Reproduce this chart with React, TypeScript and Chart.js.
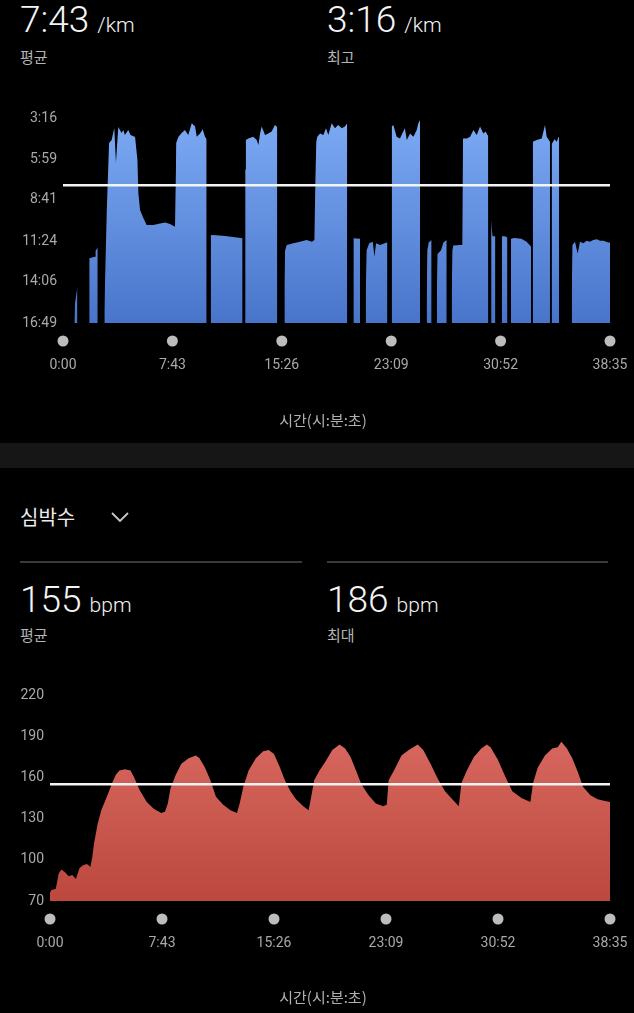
import React, { useEffect, useRef } from 'react';
import { Chart, registerables } from 'chart.js';

Chart.register(...registerables);

// ---- data ----
const timeTicks = [0, 463, 926, 1389, 1852, 2315]; // seconds
const paceTicks = [196, 359, 521, 684, 846, 1009]; // seconds per km
const hrTicks = [70, 100, 130, 160, 190, 220];
const paceAvg = 463;
const hrAvg = 155;

// pace samples (time s, pace s/km); null = no data (gap)
const paceTime = [
  48, 51, 61, 65,
  111, 127, 136, 138, 147, 150,
  175, 185, 195, 206, 217, 224, 234, 248, 255, 262, 276, 286, 305, 315, 319, 326, 340, 354, 382, 411, 432, 453, 474, 478, 479, 488, 502, 516, 530, 545, 559, 566, 580, 591, 601, 608, 612,
  625, 650, 686, 720, 760, 765,
  771, 774, 784, 805, 820, 827, 834, 841, 855, 869, 883, 897, 904, 907, 915,
  937, 940, 947, 975, 1003, 1031, 1053, 1064, 1068, 1072, 1076, 1088, 1102, 1113, 1123, 1137, 1151, 1165, 1180, 1193, 1203, 1212,
  1229, 1257, 1262,
  1281, 1285, 1296, 1311, 1318, 1325, 1342, 1370, 1373, 1380,
  1391, 1398, 1412, 1426, 1440, 1447, 1455, 1469, 1483, 1497, 1504, 1511, 1520,
  1539, 1542, 1548, 1560, 1565,
  1582, 1585, 1600, 1610, 1624, 1630,
  1645, 1648, 1652, 1680, 1690, 1693, 1709, 1723, 1737, 1751, 1765, 1779, 1789, 1796, 1800, 1806,
  1812, 1815, 1818, 1830, 1836,
  1857, 1870, 1881, 1888,
  1896, 1910, 1940, 1962, 1975, 1981, 1984,
  1988, 2005, 2026, 2040, 2047, 2061, 2064,
  2068, 2080, 2090, 2097, 2100, 2110,
  2153, 2156, 2167, 2178, 2188, 2202, 2216, 2230, 2244, 2259, 2273, 2287, 2308, 2315,
];
const paceValue = [
  1009, 930, 866, null,
  752, 748, 746, 722, 709, null,
  960, 573, 295, 283, 236, 374, 232, 255, 244, 263, 244, 263, 271, 363, 493, 561, 593, 620, 620, 614, 610, 616, 627, 400, 295, 271, 255, 244, 263, 217, 230, 270, 257, 241, 270, 280, null,
  660, 661, 664, 668, 673, null,
  400, 283, 277, 270, 283, 303, 257, 230, 263, 257, 250, 224, 230, 235, null,
  850, 720, 700, 693, 687, 680, 687, 680, 450, 290, 270, 257, 263, 237, 263, 217, 237, 224, 237, 230, 217, null,
  673, 675, null,
  900, 720, 693, 687, 746, 693, 700, 690, 690, null,
  230, 224, 270, 277, 250, 237, 283, 257, 270, 244, 217, 204, null,
  900, 720, 690, 680, null,
  900, 735, 720, 690, 680, null,
  900, 720, 702, 700, 700, 277, 277, 270, 244, 263, 230, 257, 250, 263, 265, null,
  600, 640, 665, 665, null,
  665, 665, 670, null,
  675, 672, 675, 687, 700, 706, null,
  290, 283, 277, 224, 270, 290, null,
  300, 280, 290, 270, 275, null,
  900, 700, 687, 733, 687, 693, 683, 687, 680, 677, 683, 683, 690, 690,
];

// heart rate samples (time s, bpm)
const hrTime = [
  0, 6, 24, 36, 47, 62, 77, 92, 107, 122, 137, 152, 167, 175, 182, 197, 212, 235, 257, 272, 287, 310, 333, 348, 370, 400, 430, 460, 475, 487, 498,
  520, 543, 573, 603, 618, 641, 663, 686, 716, 746, 773, 784, 799, 821, 851, 881, 904, 926, 949, 971, 994, 1017, 1047, 1069, 1081, 1092,
  1114, 1137, 1167, 1197, 1220, 1242, 1265, 1287, 1317, 1347, 1377, 1392, 1400, 1422, 1453, 1483, 1520, 1543, 1573, 1603, 1633, 1663, 1690,
  1701, 1723, 1753, 1783, 1806, 1821, 1851, 1881, 1911, 1949, 1986, 1997, 2016, 2046, 2076, 2099, 2114, 2137, 2159, 2182, 2204, 2234, 2264, 2290, 2315,
];
const hrValue = [
  76, 78, 79, 90, 93, 91, 88, 89, 86, 94, 96, 97, 95, 102, 112, 126, 136, 146, 156, 162, 165, 166, 165, 160, 151, 142, 137, 134, 135, 141, 152,
  162, 170, 174, 176, 174, 167, 158, 146, 140, 136, 134, 141, 153, 165, 174, 179, 180, 177, 168, 158, 150, 144, 139, 136, 147, 158,
  165, 171, 180, 184, 181, 175, 165, 155, 147, 141, 139, 140, 158, 165, 176, 180, 184, 180, 170, 159, 150, 144, 139,
  156, 165, 175, 181, 184, 182, 173, 161, 150, 145, 142, 156, 167, 176, 181, 182, 186, 181, 174, 164, 153, 147, 144, 143, 142,
];

// ---- helpers ----
function mmss(v: number): string {
  const total = Math.round(v);
  const m = Math.floor(total / 60);
  const s = total - m * 60;
  return m + ':' + (s < 10 ? '0' : '') + s;
}

const dotsPlugin = {
  id: 'axisDots',
  afterDraw(chart: any, _args: any, opts: any) {
    const sx = chart.scales.x;
    const { ctx, chartArea } = chart;
    ctx.save();
    ctx.fillStyle = opts.color;
    sx.ticks.forEach((t: any) => {
      const x = sx.getPixelForValue(t.value);
      ctx.beginPath();
      ctx.arc(x, chartArea.bottom + opts.offset, opts.radius, 0, Math.PI * 2);
      ctx.fill();
    });
    ctx.restore();
  },
};

type Cfg = {
  times: number[];
  values: (number | null)[];
  avg: number;
  yMin: number;
  yMax: number;
  yTicks: number[];
  reverse: boolean;
  fmtY: (v: number) => string;
  top: string;
  bottom: string;
  leftW: number;
  padTop: number;
  bottomH: number;
  base: number;
};

function buildChart(canvas: HTMLCanvasElement, c: Cfg) {
  const pts = c.times.map((t, i) => ({ x: t, y: c.values[i] }));
  const tickFont = { family: 'Roboto, "Noto Sans", sans-serif', size: 14 };
  return new Chart(canvas, {
    type: 'line',
    data: {
      datasets: [
        {
          data: [
            { x: timeTicks[0], y: c.avg },
            { x: timeTicks[timeTicks.length - 1], y: c.avg },
          ],
          borderColor: '#f4f4f4',
          borderWidth: 2.5,
          pointRadius: 0,
          fill: false,
        },
        {
          data: pts,
          borderColor: 'rgba(0,0,0,0)',
          borderWidth: 0,
          pointRadius: 0,
          tension: 0,
          spanGaps: false,
          fill: { value: c.base },
          backgroundColor: (ctx: any) => {
            const chart = ctx.chart;
            const area = chart.chartArea;
            if (!area) return c.top;
            const g = chart.ctx.createLinearGradient(0, area.top, 0, area.bottom);
            g.addColorStop(0, c.top);
            g.addColorStop(1, c.bottom);
            return g;
          },
        },
      ],
    },
    options: {
      animation: false,
      responsive: false,
      devicePixelRatio: 1,
      layout: { padding: { left: 0, right: 24, top: c.padTop, bottom: 0 } },
      plugins: {
        legend: { display: false },
        tooltip: { enabled: false },
        axisDots: { color: '#bdbdbd', radius: 5.5, offset: 18 },
      } as any,
      scales: {
        x: {
          type: 'linear',
          min: timeTicks[0],
          max: timeTicks[timeTicks.length - 1],
          grid: { display: false, drawTicks: false },
          border: { display: false },
          afterBuildTicks: (scale: any) => {
            scale.ticks = timeTicks.map((v) => ({ value: v }));
          },
          afterFit: (scale: any) => {
            scale.height = c.bottomH;
            scale.paddingLeft = 0;
            scale.paddingRight = 0;
          },
          ticks: {
            autoSkip: false,
            maxRotation: 0,
            padding: 34,
            color: '#a9a9a9',
            font: tickFont,
            callback: (v: any) => mmss(Number(v)),
          },
        },
        y: {
          type: 'linear',
          min: c.yMin,
          max: c.yMax,
          reverse: c.reverse,
          grid: { display: false, drawTicks: false },
          border: { display: false },
          afterBuildTicks: (scale: any) => {
            scale.ticks = c.yTicks.map((v) => ({ value: v }));
          },
          afterFit: (scale: any) => {
            scale.width = c.leftW;
            scale.paddingTop = 0;
            scale.paddingBottom = 0;
          },
          ticks: {
            autoSkip: false,
            padding: 6,
            color: '#a9a9a9',
            font: tickFont,
            callback: (v: any) => c.fmtY(Number(v)),
          },
        },
      },
    },
    plugins: [dotsPlugin as any],
  });
}

const numFont = 'Roboto, "Noto Sans", sans-serif';
const krFont = '"Noto Sans CJK KR", "Noto Sans", sans-serif';

function abs(top: number, left: number, extra: React.CSSProperties = {}): React.CSSProperties {
  return { position: 'absolute', top, left, whiteSpace: 'nowrap', ...extra };
}

function Stat(props: { top: number; left: number; value: string; unit: string; label: string; labelTop: number }) {
  return (
    <>
      <div style={abs(props.top, props.left, { fontFamily: numFont, color: '#f4f4f4', lineHeight: '40px' })}>
        <span style={{ fontSize: 37, fontWeight: 300 }}>{props.value}</span>
        <span style={{ fontSize: 21, fontWeight: 300, marginLeft: 8 }}>{props.unit}</span>
      </div>
      <div style={abs(props.labelTop, props.left, { fontFamily: krFont, color: '#b4b4b4', fontSize: 15, lineHeight: '20px' })}>
        {props.label}
      </div>
    </>
  );
}

export default function App() {
  const paceRef = useRef<HTMLCanvasElement | null>(null);
  const hrRef = useRef<HTMLCanvasElement | null>(null);

  useEffect(() => {
    const c1 = buildChart(paceRef.current!, {
      times: paceTime,
      values: paceValue,
      avg: paceAvg,
      yMin: paceTicks[0],
      yMax: paceTicks[paceTicks.length - 1],
      yTicks: paceTicks,
      reverse: true,
      fmtY: mmss,
      top: 'rgb(125,170,244)',
      bottom: 'rgb(72,117,202)',
      leftW: 63,
      padTop: 18,
      bottomH: 117,
      base: paceTicks[paceTicks.length - 1],
    });
    const c2 = buildChart(hrRef.current!, {
      times: hrTime,
      values: hrValue,
      avg: hrAvg,
      yMin: hrTicks[0],
      yMax: hrTicks[hrTicks.length - 1],
      yTicks: hrTicks,
      reverse: false,
      fmtY: (v) => String(Math.round(v)),
      top: 'rgb(222,112,104)',
      bottom: 'rgb(188,72,62)',
      leftW: 50,
      padTop: 15,
      bottomH: 112,
      base: hrTicks[0],
    });
    return () => {
      c1.destroy();
      c2.destroy();
    };
  }, []);

  const axisTitle: React.CSSProperties = {
    fontFamily: krFont,
    color: '#b0b0b0',
    fontSize: 15,
    lineHeight: '20px',
    width: 634,
    textAlign: 'center',
  };

  return (
    <div style={{ position: 'absolute', left: 0, top: 0, width: 634, height: 1013, background: '#000', overflow: 'hidden' }}>
      <Stat top={0} left={20} value="7:43" unit="/km" label="평균" labelTop={47} />
      <Stat top={0} left={327} value="3:16" unit="/km" label="최고" labelTop={47} />

      <canvas ref={paceRef} width={634} height={340} style={{ position: 'absolute', left: 0, top: 100 }} />
      <div style={abs(410, 6, axisTitle)}>시간(시:분:초)</div>

      <div style={{ position: 'absolute', left: 0, top: 443, width: 634, height: 25, background: '#161616' }} />

      <div style={abs(503, 20, { fontFamily: krFont, color: '#ececec', fontSize: 20, lineHeight: '28px' })}>심박수</div>
      <svg style={{ position: 'absolute', left: 110, top: 510 }} width={20} height={14}>
        <polyline points="2,3 10,11 18,3" fill="none" stroke="#c8c8c8" strokeWidth={1.8} />
      </svg>

      <div style={{ position: 'absolute', left: 20, top: 561, width: 282, height: 2, background: '#3a3a3a' }} />
      <div style={{ position: 'absolute', left: 327, top: 561, width: 281, height: 2, background: '#3a3a3a' }} />

      <Stat top={580} left={20} value="155" unit="bpm" label="평균" labelTop={625} />
      <Stat top={580} left={327} value="186" unit="bpm" label="최대" labelTop={625} />

      <canvas ref={hrRef} width={634} height={333} style={{ position: 'absolute', left: 0, top: 680 }} />
      <div style={abs(987, 6, axisTitle)}>시간(시:분:초)</div>
    </div>
  );
}
